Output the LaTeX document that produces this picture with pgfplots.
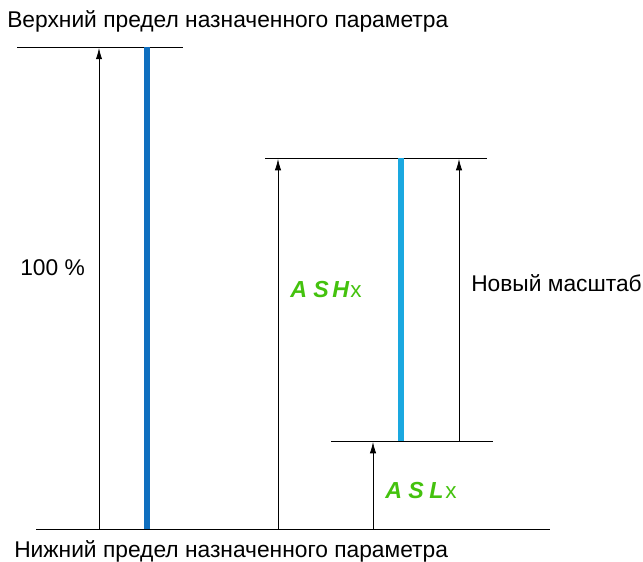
\documentclass[border=0pt]{standalone}
\usepackage{pgfplots}
\pgfplotsset{compat=1.18}
\usepackage{fontspec}
\setmainfont{Liberation Sans}
\usetikzlibrary{arrows.meta}
\definecolor{darkblue}{HTML}{0F6FBF}
\definecolor{lightblue}{HTML}{1AA8E0}
\definecolor{lcdgreen}{HTML}{44C20E}
\begin{document}
\begin{tikzpicture}
\begin{axis}[
  name=ax,
  scale only axis, width=16.075cm, height=14.025cm,
  xmin=0, xmax=643, ymin=0, ymax=561, y dir=reverse,
  hide axis, clip=false,
]
\path (rel axis cs:0,0) rectangle (rel axis cs:1,1);
% horizontal lines
\addplot[black, no marks, line width=0.6pt] coordinates {(17,47) (183,47)};
\addplot[black, no marks, line width=0.6pt] coordinates {(36,529) (550,529)};
\addplot[black, no marks, line width=0.6pt] coordinates {(265,158) (487,158)};
\addplot[black, no marks, line width=0.6pt] coordinates {(331,441) (493,441)};
% arrows
\addplot[black, no marks, line width=0.5pt, -{Latex[length=8pt,width=4.5pt]}] coordinates {(99,529) (99,48)};
\addplot[black, no marks, line width=0.5pt, -{Latex[length=8pt,width=4.5pt]}] coordinates {(278,529) (278,159)};
\addplot[black, no marks, line width=0.5pt, -{Latex[length=8pt,width=4.5pt]}] coordinates {(459,441) (459,159)};
\addplot[black, no marks, line width=0.5pt, -{Latex[length=8pt,width=4.5pt]}] coordinates {(373,529) (373,442)};
% bars
\addplot[darkblue, no marks, line width=3.6pt] coordinates {(147,47) (147,529)};
\addplot[lightblue, no marks, line width=3.6pt] coordinates {(401,158) (401,441)};
% texts
\tikzset{lbl/.style={anchor=base west, inner sep=0pt, font=\fontsize{16.2}{18}\selectfont}}
\node[lbl] at (axis cs:7,27) {Верхний предел назначенного параметра};
\node[lbl] at (axis cs:14,557) {Нижний предел назначенного параметра};
\node[lbl] at (axis cs:20,275) {100 \%};
\node[lbl] at (axis cs:471,291) {Новый масштаб};
\tikzset{lcd/.style={anchor=base west, inner sep=0pt, text=lcdgreen, font=\fontsize{16.5}{18}\selectfont\bfseries\itshape},
         lcdx/.style={anchor=base west, inner sep=0pt, text=lcdgreen, font=\fontsize{16}{18}\selectfont}}
\node[lcd] at (axis cs:290,297) {A};
\node[lcd] at (axis cs:313,297) {S};
\node[lcd] at (axis cs:332,297) {H};
\node[lcdx] at (axis cs:350,297) {x};
\node[lcd] at (axis cs:385,498) {A};
\node[lcd] at (axis cs:408,498) {S};
\node[lcd] at (axis cs:429,498) {L};
\node[lcdx] at (axis cs:445,498) {x};
\end{axis}
\pgfresetboundingbox
\path (ax.south west) rectangle (ax.north east);
\end{tikzpicture}
\end{document}
